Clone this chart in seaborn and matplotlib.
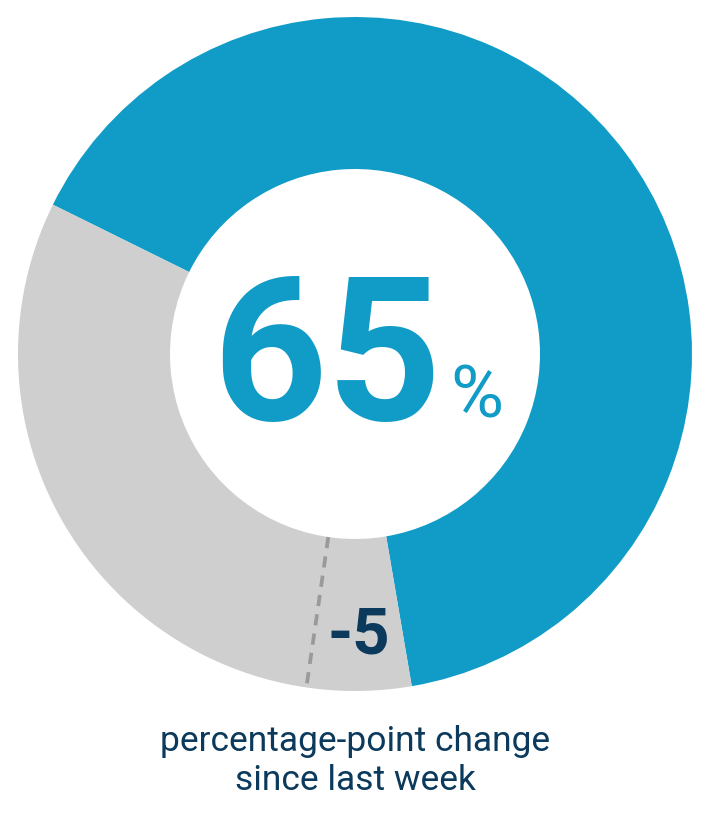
import numpy as np
import matplotlib.pyplot as plt
import seaborn as sns

# data
shares = [65, 35]            # current share, remainder
change = -5                  # percentage-point change
caption = ["percentage-point change", "since last week"]

BLUE = "#109cc6"
GREY = "#cfcfcf"
NAVY = "#0b3a5c"

sns.set_style("white")
plt.rcParams['font.family'] = ['Roboto', 'DejaVu Sans']

fig = plt.figure(figsize=(7.11, 8.31), dpi=100)
ax = fig.add_axes([0, 0, 1, 1])

cx, cy = 355, 477
r_out, r_in = 337, 185
start = 153.7

ax.pie(shares, colors=[BLUE, GREY], startangle=start, counterclock=False,
       center=(cx, cy), radius=r_out, frame=True,
       wedgeprops=dict(width=r_out - r_in, linewidth=0))
ax.set_xlim(0, 711)
ax.set_ylim(0, 831)
ax.set_aspect('equal')
ax.axis('off')

# dashed marker at last week's value
prev = shares[0] - change
th = np.deg2rad(start - 360 * prev / 100)
ax.plot([cx + r_in * np.cos(th), cx + r_out * np.cos(th)],
        [cy + r_in * np.sin(th), cy + r_out * np.sin(th)],
        color="#9a9a9a", lw=2.7, ls=(0, (3, 2.2)))

# change label
tm = np.deg2rad(start - 360 * (shares[0] - change / 2) / 100)
ax.text(cx + 282 * np.cos(tm), cy + 282 * np.sin(tm), f"{change}",
        color=NAVY, fontsize=47, fontweight='bold', ha='center', va='center')

# big number
ax.text(442, 411, f"{shares[0]}", color=BLUE, fontsize=144, fontweight='bold',
        ha='right', va='baseline')
ax.text(450, 413, "%", color=BLUE, fontsize=52, ha='left', va='baseline')

# caption
ax.text(cx, 831 - 742, caption[0], color=NAVY, fontsize=25.5, ha='center', va='center')
ax.text(cx, 831 - 781, caption[1], color=NAVY, fontsize=25.5, ha='center', va='center')

fig.savefig("out.png", dpi=100)
